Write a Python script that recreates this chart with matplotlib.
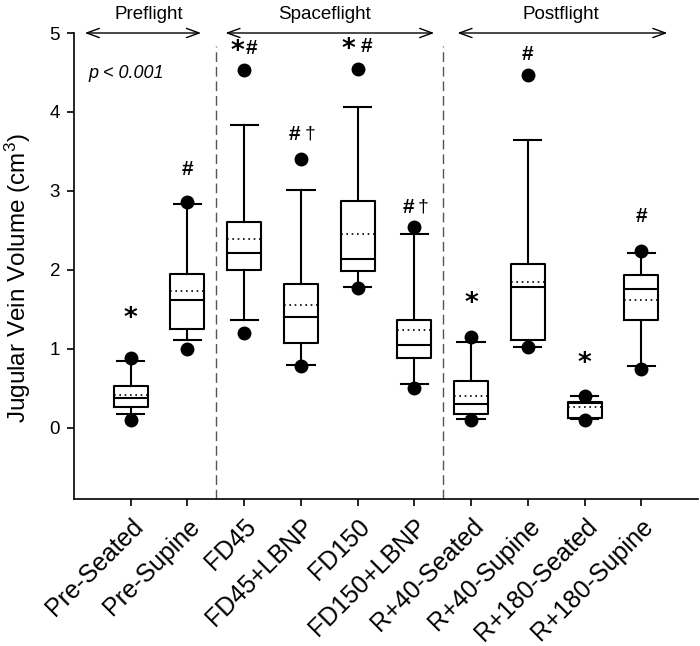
import matplotlib
matplotlib.use("Agg")
import matplotlib.pyplot as plt

plt.rcParams['font.family'] = ['Liberation Sans', 'DejaVu Sans']
plt.rcParams['mathtext.fontset'] = 'custom'
plt.rcParams['mathtext.rm'] = 'Liberation Sans'
plt.rcParams['mathtext.default'] = 'regular'

categories = ['Pre-Seated', 'Pre-Supine', 'FD45', 'FD45+LBNP', 'FD150',
              'FD150+LBNP', 'R+40-Seated', 'R+40-Supine', 'R+180-Seated', 'R+180-Supine']
p5 = [0.10, 1.00, 1.20, 0.78, 1.77, 0.51, 0.10, 1.03, 0.10, 0.74]
whislo = [0.18, 1.11, 1.36, 0.80, 1.79, 0.56, 0.11, 1.03, 0.11, 0.79]
q1 = [0.26, 1.25, 2.00, 1.08, 1.99, 0.89, 0.18, 1.11, 0.13, 1.37]
median = [0.38, 1.62, 2.22, 1.40, 2.14, 1.05, 0.30, 1.78, 0.31, 1.76]
mean = [0.42, 1.73, 2.39, 1.55, 2.46, 1.24, 0.40, 1.85, 0.26, 1.62]
q3 = [0.53, 1.95, 2.61, 1.82, 2.87, 1.37, 0.60, 2.07, 0.33, 1.94]
whishi = [0.85, 2.84, 3.84, 3.01, 4.06, 2.45, 1.09, 3.65, 0.40, 2.21]
p95 = [0.89, 2.86, 4.53, 3.40, 4.55, 2.54, 1.15, 4.47, 0.41, 2.24]

sig_labels = ['*', '#', '*#', '#†', '*#', '#†', '*', '#', '*', '#']
sig_y = [1.43, 3.27, 4.81, 3.71, 4.83, 2.79, 1.62, 4.73, 0.86, 2.68]

groups = ['Preflight', 'Spaceflight', 'Postflight']
group_spans = [(0.19, 2.24), (2.67, 6.35), (6.76, 10.46)]
group_label_x = [1.31, 4.42, 8.59]
separators = [2.5, 6.5]

fig = plt.figure(figsize=(7.0, 6.46), dpi=100)
ax = fig.add_axes([74/700, 1 - 499/646, 624/700, 466/646])

positions = list(range(1, len(categories) + 1))
stats = []
for i in range(len(categories)):
    stats.append(dict(med=median[i], q1=q1[i], q3=q3[i], whislo=whislo[i],
                      whishi=whishi[i], mean=mean[i], fliers=[p5[i], p95[i]],
                      label=categories[i]))

ax.bxp(stats, positions=positions, widths=0.6, capwidths=0.48,
       showmeans=True, meanline=True, showfliers=True,
       boxprops=dict(color='black', linewidth=1.5),
       whiskerprops=dict(color='black', linewidth=1.5),
       capprops=dict(color='black', linewidth=1.5),
       medianprops=dict(color='black', linewidth=1.5),
       meanprops=dict(color='black', linewidth=1.2, linestyle=(0, (1, 2.2))),
       flierprops=dict(marker='o', markerfacecolor='black', markeredgecolor='black',
                       markersize=9, linestyle='none'))

ax.set_xlim(0, 11)
ax.set_ylim(-0.9, 5)
ax.set_yticks([0, 1, 2, 3, 4, 5])
ax.set_yticklabels(['0', '1', '2', '3', '4', '5'], fontsize=13.5)
ax.set_xticks(positions)
ax.set_xticklabels(categories, fontsize=18, rotation=45, ha='right',
                   va='top', rotation_mode='anchor')
ax.tick_params(axis='both', direction='out', length=5, width=1.2, color='black')
ax.tick_params(axis='x', pad=6)
ax.tick_params(axis='y', pad=5)
for s in ['top', 'right']:
    ax.spines[s].set_visible(False)
for s in ['left', 'bottom']:
    ax.spines[s].set_linewidth(1.2)

ax.set_ylabel('Jugular Vein Volume (cm$^3$)', fontsize=17.5)
ax.yaxis.set_label_coords(-0.066, 0.475)

for xs in separators:
    ax.plot([xs, xs], [-0.9, 4.83], color='#555555', linewidth=1.0,
            dashes=(7, 3.5), clip_on=False)

for (x1, x2), name, lx in zip(group_spans, groups, group_label_x):
    ax.annotate('', xy=(x2, 5.0), xytext=(x1, 5.0), annotation_clip=False,
                arrowprops=dict(arrowstyle='<->,head_length=0.6,head_width=0.22',
                                color='black', lw=1.0, mutation_scale=15,
                                shrinkA=0, shrinkB=0))
    ax.text(lx, 5.24, name, fontsize=13.5, ha='center', va='center', clip_on=False)

ax.text(0.25, 4.49, 'p < 0.001', fontsize=13, style='italic', ha='left', va='center')

def draw_sym(x, y, ch, dx):
    if ch == '*':
        ax.annotate('*', xy=(x, y), xytext=(dx, -4), textcoords='offset pixels',
                    fontsize=19, fontweight='bold', ha='center', va='center',
                    family='DejaVu Sans')
    elif ch == '#':
        ax.annotate('#', xy=(x, y), xytext=(dx, 0), textcoords='offset pixels',
                    fontsize=15, fontweight='bold', ha='center', va='center')
    else:
        ax.annotate(ch, xy=(x, y), xytext=(dx, 1), textcoords='offset pixels',
                    fontsize=14, ha='center', va='center')

for i, lab in enumerate(sig_labels):
    x = positions[i]
    y = sig_y[i]
    if lab == '*#':
        gap = 7 if i == 2 else 9
        draw_sym(x, y, '*', -gap)
        draw_sym(x, y, '#', gap)
    elif lab == '#†':
        draw_sym(x, y, '#', -6)
        draw_sym(x, y, '†', 9)
    else:
        draw_sym(x, y, lab, 0)

fig.savefig('out.png', dpi=100)
